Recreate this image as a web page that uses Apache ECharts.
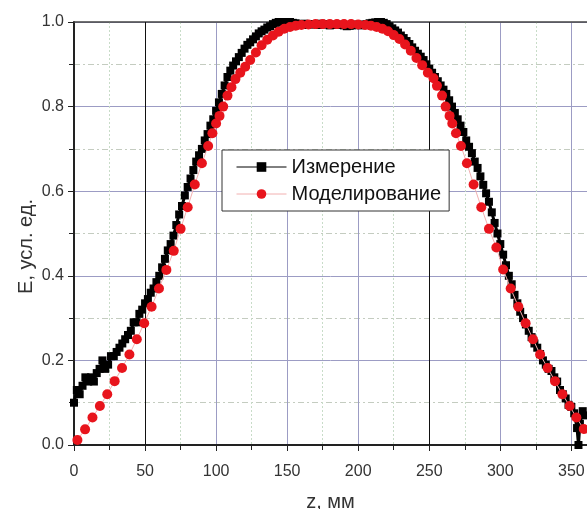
<!DOCTYPE html>
<html>
<head>
<meta charset="utf-8">
<script src="https://cdn.jsdelivr.net/npm/echarts@6/dist/echarts.min.js"></script>
<style>
  html, body { margin: 0; padding: 0; background: #fff; }
  #chart { width: 587px; height: 509px; }
</style>
</head>
<body>
<div id="chart"></div>
<script>
// измерение: z (мм) и E (усл. ед.)
var measZ = [0,2,4,6,8,10,12,14,16,18,20,22,24,26,28,30,32,34,36,38,40,42,44,46,48,50,52,54,56,58,60,62,64,66,68,70,72,74,76,78,80,82,84,86,88,90,92,94,96,98,100,102,104,106,108,110,112,114,116,118,120,122,124,126,128,130,132,134,136,138,140,142,144,146,148,150,152,154,156,158,160,162,164,166,168,170,172,174,176,178,180,182,184,186,188,190,192,194,196,198,200,202,204,206,208,210,212,214,216,218,220,222,224,226,228,230,232,234,236,238,240,242,244,246,248,250,252,254,256,258,260,262,264,266,268,270,272,274,276,278,280,282,284,286,288,290,292,294,296,298,300,302,304,306,308,310,312,314,316,318,320,322,324,326,328,330,332,334,336,338,340,342,344,346,348,350,352,354,355,356,358,360];
var measE = [0.10,0.13,0.12,0.14,0.16,0.15,0.16,0.15,0.17,0.18,0.20,0.18,0.19,0.21,0.21,0.22,0.23,0.24,0.25,0.26,0.27,0.29,0.29,0.31,0.32,0.335,0.345,0.36,0.37,0.385,0.40,0.42,0.44,0.46,0.475,0.495,0.52,0.545,0.565,0.59,0.61,0.63,0.65,0.67,0.685,0.70,0.72,0.735,0.755,0.77,0.79,0.81,0.83,0.85,0.87,0.885,0.897,0.907,0.917,0.927,0.937,0.946,0.952,0.959,0.966,0.973,0.978,0.982,0.987,0.99,0.995,0.998,1.0,1.0,1.0,1.0,1.0,0.998,0.997,0.995,0.994,0.996,0.993,0.995,0.994,0.995,0.993,0.996,0.994,0.995,0.992,0.994,0.993,0.993,0.994,0.992,0.99,0.991,0.992,0.994,0.993,0.992,0.994,0.995,0.997,0.998,0.999,1.0,1.0,0.998,0.995,0.99,0.985,0.98,0.975,0.968,0.962,0.955,0.948,0.94,0.932,0.925,0.918,0.91,0.90,0.89,0.88,0.87,0.86,0.85,0.84,0.83,0.815,0.80,0.785,0.77,0.755,0.74,0.72,0.705,0.69,0.67,0.655,0.635,0.615,0.595,0.575,0.55,0.525,0.50,0.475,0.45,0.425,0.40,0.38,0.355,0.335,0.315,0.30,0.285,0.27,0.255,0.24,0.23,0.215,0.20,0.19,0.18,0.175,0.16,0.15,0.13,0.12,0.11,0.095,0.09,0.075,0.04,0.0,0.05,0.08,0.07];

// моделирование
var modZ = [2.4,7.8,13,18.2,23.4,28.6,33.8,39,44.2,49.4,54.6,59.8,65,70.2,75,80,85,90,94.4,97.4,100,102.4,105,108,110.8,113.6,117,120.5,124,128,132,136,140,144,148,152,156,160,165,170,175,180,185,190,195,200,205,209,213,217,221,225,229,233,237,241,245,249,253,255.4,259,261.5,264.3,266.2,268.8,272.3,276.5,281.2,286.6,292,297.2,302,307.3,312.7,317.8,323,328,333.3,338.5,343.7,348.8,353.5,358.7,363.9];
var modE = [0.012,0.037,0.065,0.092,0.12,0.151,0.182,0.214,0.25,0.288,0.327,0.37,0.414,0.459,0.511,0.562,0.616,0.666,0.707,0.737,0.76,0.778,0.80,0.826,0.846,0.865,0.88,0.894,0.91,0.928,0.945,0.958,0.968,0.977,0.984,0.988,0.991,0.993,0.994,0.995,0.995,0.995,0.995,0.995,0.995,0.994,0.993,0.991,0.988,0.984,0.978,0.969,0.96,0.947,0.932,0.915,0.898,0.88,0.867,0.849,0.826,0.80,0.778,0.76,0.737,0.707,0.666,0.616,0.562,0.511,0.467,0.415,0.37,0.327,0.288,0.25,0.214,0.182,0.151,0.12,0.092,0.065,0.038,0.012];

var seriesNames = ['Измерение', 'Моделирование'];
var darkLines = [50, 250];

var fontFam = '"Liberation Sans", Arial, sans-serif';
var chart = echarts.init(document.getElementById('chart'));

function pairs(xs, ys) {
  return xs.map(function (x, i) { return [x, ys[i]]; });
}

var option = {
  animation: false,
  backgroundColor: '#fff',
  grid: { left: 74, top: 22, right: 0, bottom: 64, outerBoundsMode: 'none', containLabel: false },
  legend: {
    orient: 'vertical',
    left: 222, top: 150,
    backgroundColor: '#fff',
    borderColor: '#333', borderWidth: 1,
    padding: [7, 8, 7, 14],
    itemGap: 7,
    itemWidth: 50, itemHeight: 12,
    lineStyle: { width: 1 },
    textStyle: { fontSize: 20, color: '#111', fontFamily: fontFam },
    data: seriesNames
  },
  xAxis: [{
    type: 'value', min: 0, max: 361, interval: 50,
    name: 'z, мм', nameLocation: 'middle', nameGap: 47,
    nameTextStyle: { fontSize: 20, color: '#333', fontFamily: fontFam },
    axisLine: { lineStyle: { color: '#222', width: 2 } },
    axisTick: { show: true, inside: false, length: 6, lineStyle: { color: '#222' } },
    minorTick: { show: true, splitNumber: 2, length: 5, lineStyle: { color: '#222' } },
    axisLabel: { fontSize: 16, color: '#333', margin: 19, fontFamily: fontFam, showMaxLabel: false },
    splitLine: { show: true, lineStyle: { color: '#9c9cc4', width: 1 } },
    minorSplitLine: { show: true, lineStyle: { color: '#c8dcc8', type: [2, 2], width: 1 } }
  }, {
    type: 'value', min: 0, max: 361, position: 'top',
    axisLine: { show: true, onZero: false, lineStyle: { color: '#444', width: 1.5 } },
    axisTick: { show: false }, axisLabel: { show: false }, splitLine: { show: false }
  }],
  yAxis: {
    type: 'value', min: 0, max: 1, interval: 0.2,
    name: 'E, усл. ед.', nameLocation: 'middle', nameGap: 38, nameMoveOverlap: false,
    nameTextStyle: { fontSize: 20, color: '#333', fontFamily: fontFam, padding: [0, 26, 0, 0] },
    axisLine: { show: true, lineStyle: { color: '#222', width: 2 } },
    axisTick: { show: true, inside: false, length: 6, lineStyle: { color: '#222' } },
    minorTick: { show: true, splitNumber: 2, length: 5, lineStyle: { color: '#222' } },
    axisLabel: { fontSize: 16, color: '#333', margin: 10, fontFamily: fontFam,
      formatter: function (v) { return v.toFixed(1); } },
    splitLine: { show: true, lineStyle: { color: '#9c9cc4', width: 1 } },
    minorSplitLine: { show: true, lineStyle: { color: '#c4ccc0', type: [6, 3, 2, 3], width: 1 } }
  },
  series: [{
    name: seriesNames[0],
    type: 'line',
    data: pairs(measZ, measE),
    symbol: 'rect', symbolSize: 8,
    itemStyle: { color: '#000' },
    lineStyle: { color: '#000', width: 3 },
    z: 3,
    markLine: {
      silent: true, symbol: 'none', z: 1,
      label: { show: false },
      lineStyle: { color: '#111', type: 'solid', width: 1 },
      data: darkLines.map(function (v) { return { xAxis: v }; })
    }
  }, {
    name: seriesNames[1],
    type: 'line',
    data: pairs(modZ, modE),
    symbol: 'circle', symbolSize: 10,
    itemStyle: { color: '#e8141c' },
    lineStyle: { color: '#f2b0b0', width: 1 },
    z: 4
  }]
};
chart.setOption(option);
</script>
</body>
</html>
